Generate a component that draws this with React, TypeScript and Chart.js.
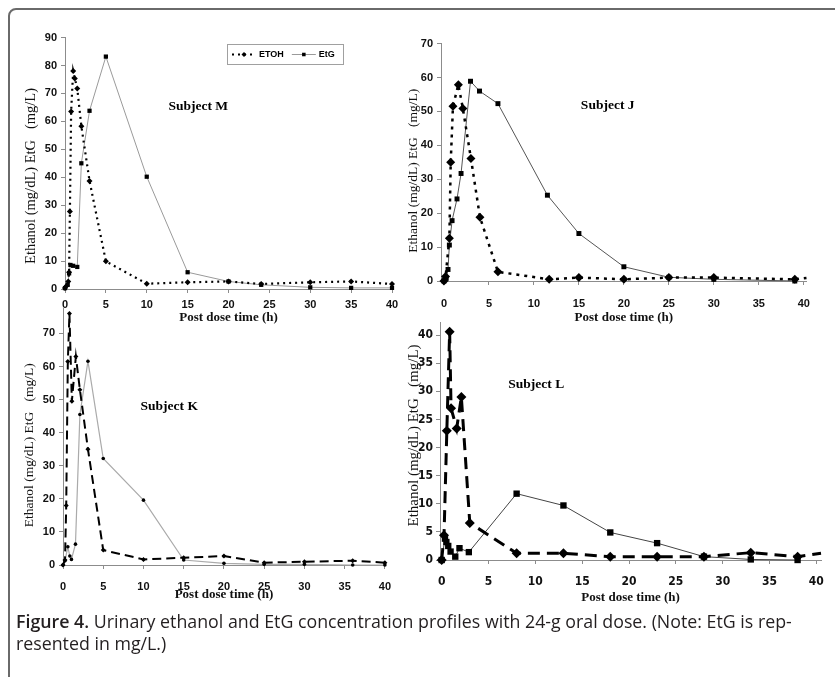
import React, { useEffect, useRef } from "react";
import { Chart, registerables } from "chart.js";

Chart.register(...registerables);

// ---------- Data ----------
// Subject M
const mEtohTime = [0, 0.2, 0.4, 0.5, 0.6, 0.75, 1, 1.2, 1.5, 2, 3, 5, 10, 15, 20, 24, 30, 35, 40];
const mEtohValue = [0.4, 1.2, 2.7, 6, 27.7, 63.5, 78, 75.4, 71.8, 58.3, 38.7, 9.9, 1.9, 2.4, 2.7, 1.8, 2.4, 2.7, 1.8];
const mEtgTime = [0, 0.33, 0.5, 0.67, 1, 1.5, 2, 3, 5, 10, 15, 20, 24, 30, 35, 40];
const mEtgValue = [0.3, 1.5, 5.6, 8.6, 8.3, 7.9, 45, 63.8, 83.2, 40.2, 6, 2.7, 1.5, 0.6, 0.4, 0.4];

// Subject J
const jEtohTime = [0, 0.18, 0.6, 0.75, 1, 1.6, 2.1, 3, 4, 6, 11.7, 15, 20, 25, 30, 39, 40.3];
const jEtohValue = [0, 1.3, 12.6, 35, 51.5, 57.9, 50.9, 36.1, 18.8, 2.7, 0.5, 1.0, 0.5, 1.0, 1.0, 0.5, 0.9];
const jEtgTime = [0, 0.25, 0.45, 0.6, 0.9, 1.45, 1.9, 2.95, 3.95, 6, 11.5, 15, 20, 25, 30, 39];
const jEtgValue = [0, 0.8, 3.4, 10.6, 17.8, 24.2, 31.7, 58.9, 56, 52.3, 25.3, 14, 4.2, 1.1, 0.5, 0];

// Subject K
const kEtohTime = [0, 0.25, 0.4, 0.6, 0.8, 1.1, 1.6, 2.1, 3.1, 5, 10, 15, 20, 25, 30, 36, 40];
const kEtohValue = [0, 1.5, 18, 61.5, 76, 49.5, 63, 53, 35, 4.5, 1.7, 2.2, 2.7, 0.7, 1.0, 1.3, 0.7];
const kEtgTime = [0, 0.25, 0.6, 0.85, 1.05, 1.55, 2.1, 3.1, 5, 10, 15, 20, 25, 30, 36, 40];
const kEtgValue = [0, 1.3, 5.5, 2.7, 1.7, 6.3, 45.5, 61.6, 32.2, 19.6, 1.5, 0.5, 0.2, 0.2, 0, 0];

// Subject L
const lEtohTime = [0, 0.25, 0.55, 0.85, 1, 1.6, 2.1, 3, 8, 13, 18, 23, 28, 33, 38, 40.5];
const lEtohValue = [0, 4.4, 23, 40.6, 27, 23.4, 29, 6.6, 1.2, 1.2, 0.6, 0.6, 0.6, 1.3, 0.6, 1.2];
const lEtgTime = [0, 0.35, 0.5, 0.7, 0.95, 1.45, 1.9, 2.9, 8, 13, 18, 23, 28, 33, 38];
const lEtgValue = [0, 3.8, 3.2, 2.5, 1.5, 0.6, 2.1, 1.4, 11.8, 9.7, 4.9, 3.0, 0.6, 0.1, 0];

// Tick labels
const xTickValues = [0, 5, 10, 15, 20, 25, 30, 35, 40];
const mYTicks = [0, 10, 20, 30, 40, 50, 60, 70, 80, 90];
const jYTicks = [0, 10, 20, 30, 40, 50, 60, 70];
const kYTicks = [0, 10, 20, 30, 40, 50, 60, 70];
const lYTicks = [0, 5, 10, 15, 20, 25, 30, 35, 40];

const seriesNames = ["ETOH", "EtG"];
const subjectNames = ["Subject M", "Subject J", "Subject K", "Subject L"];
const xTitle = "Post dose time (h)";
const yTitle = "Ethanol (mg/dL) EtG   (mg/L)";
const captionBold = "Figure 4.";
const captionLine1 = " Urinary ethanol and EtG concentration profiles with 24-g oral dose. (Note: EtG is rep-";
const captionLine2 = "resented in mg/L.)";

// ---------- helpers ----------
const SERIF = '"Liberation Serif", "Times New Roman", serif';
const SANS = '"Liberation Sans", Arial, sans-serif';
const NARROW = '"Liberation Sans Narrow", "Arial Narrow", "DejaVu Sans Condensed", sans-serif';

// shift a centred rotated title along its axis by padding with spaces
function shiftedTitle(text: string, trailing: number, leading: number) {
  return " ".repeat(leading) + text + " ".repeat(trailing);
}

function drawMarker(ctx: CanvasRenderingContext2D, style: string, x: number, y: number, r: number) {
  ctx.beginPath();
  if (style === "rect") {
    const s = r * Math.SQRT1_2;
    ctx.rect(x - s, y - s, 2 * s, 2 * s);
  } else if (style === "rectRot") {
    ctx.moveTo(x, y - r);
    ctx.lineTo(x + r, y);
    ctx.lineTo(x, y + r);
    ctx.lineTo(x - r, y);
    ctx.closePath();
  } else {
    ctx.arc(x, y, r, 0, Math.PI * 2);
  }
  ctx.fillStyle = "#000";
  ctx.fill();
}

const boxLegendPlugin = {
  id: "boxLegend",
  afterDraw(chart: any, _args: any, opts: any) {
    if (!opts || !opts.show) return;
    const { ctx, chartArea } = chart;
    const x0 = Math.round(chartArea.left + opts.dx);
    const y0 = Math.round(chartArea.top + opts.dy);
    ctx.save();
    ctx.lineWidth = 1;
    ctx.strokeStyle = "#a0a0a0";
    ctx.strokeRect(x0 + 0.5, y0 + 0.5, opts.width, opts.height);
    const cy = y0 + opts.height / 2 + 0.5;
    let cx = x0 + 5;
    ctx.font = "bold 9px " + SANS;
    ctx.textBaseline = "middle";
    ctx.textAlign = "left";
    chart.data.datasets.forEach((ds: any) => {
      ctx.beginPath();
      ctx.setLineDash(ds.borderDash || []);
      ctx.strokeStyle = ds.borderColor;
      ctx.lineWidth = ds.borderWidth;
      ctx.moveTo(cx, cy);
      ctx.lineTo(cx + opts.sample, cy);
      ctx.stroke();
      ctx.setLineDash([]);
      drawMarker(ctx, ds.pointStyle, cx + opts.sample / 2, cy, 2.5);
      ctx.fillStyle = "#000";
      ctx.fillText(ds.label, cx + opts.sample + 3, cy + 0.5);
      cx += opts.sample + 3 + ctx.measureText(ds.label).width + opts.gap;
    });
    ctx.restore();
  },
};

const subjectPlugin = {
  id: "subjectLabel",
  afterDatasetsDraw(chart: any, _args: any, opts: any) {
    if (!opts || !opts.text) return;
    const { ctx, scales } = chart;
    ctx.save();
    ctx.font = opts.font;
    ctx.fillStyle = "#000";
    ctx.textAlign = "center";
    ctx.textBaseline = "middle";
    ctx.fillText(opts.text, scales.x.getPixelForValue(opts.x), scales.y.getPixelForValue(opts.y));
    ctx.restore();
  },
};

type Style = { color: string; width: number; dash: number[]; point: string; radius: number | number[] };

function pairs(t: number[], v: number[]) {
  return t.map((x, i) => ({ x, y: v[i] }));
}

function buildConfig(p: any) {
  const mk = (label: string, t: number[], v: number[], s: Style) => ({
    label,
    data: pairs(t, v),
    borderColor: s.color,
    backgroundColor: "#000",
    borderWidth: s.width,
    borderDash: s.dash,
    pointStyle: s.point,
    pointRadius: s.radius,
    pointBackgroundColor: "#000",
    pointBorderColor: "#000",
    pointBorderWidth: 0,
    tension: 0,
    clip: false,
  });
  const axisColor = "#8c8c8c";
  const tickFont = { family: p.tickFamily || SANS, size: p.tickSize || 11, weight: "bold" as const };
  return {
    type: "line" as const,
    data: {
      datasets: [
        mk(seriesNames[0], p.etohT, p.etohV, p.etohStyle),
        mk(seriesNames[1], p.etgT, p.etgV, p.etgStyle),
      ],
    },
    options: {
      responsive: false,
      maintainAspectRatio: false,
      animation: false as const,
      devicePixelRatio: 1,
      events: [] as any[],
      layout: { padding: { top: p.padTop, right: p.padRight, left: 0, bottom: 0 } },
      plugins: {
        legend: { display: false },
        tooltip: { enabled: false },
        boxLegend: p.legend || { show: false },
        subjectLabel: { text: p.subject, x: p.subjectX, y: p.subjectY, font: "bold 13.5px " + SERIF },
      },
      scales: {
        x: {
          type: "linear" as const,
          min: p.xMin,
          max: p.xMax,
          afterBuildTicks: (s: any) => {
            s.ticks = xTickValues.map((value) => ({ value }));
          },
          afterFit: (s: any) => {
            s.height = p.xAxisH;
          },
          grid: { drawOnChartArea: false, drawTicks: true, tickLength: 4, color: axisColor },
          border: { display: true, color: axisColor, width: 1 },
          ticks: { font: tickFont, color: "#111", padding: p.xTickPad, maxRotation: 0, autoSkip: false },
          title: {
            display: true,
            text: xTitle,
            font: { family: SERIF, size: 13, weight: "bold" as const },
            color: "#111",
            padding: 0,
          },
        },
        y: {
          type: "linear" as const,
          min: p.yMin,
          max: p.yMax,
          afterBuildTicks: (s: any) => {
            s.ticks = p.yTicks.map((value: number) => ({ value }));
          },
          afterFit: (s: any) => {
            s.width = p.yAxisW;
          },
          grid: { drawOnChartArea: false, drawTicks: true, tickLength: 4, color: axisColor },
          border: { display: true, color: axisColor, width: 1 },
          ticks: { font: tickFont, color: "#111", padding: p.yTickPad, autoSkip: false },
          title: {
            display: true,
            text: shiftedTitle(yTitle, p.yTitleTrail || 0, p.yTitleLead || 0),
            font: { family: SERIF, size: p.yTitleSize, weight: "normal" as const },
            color: "#111",
            padding: 0,
          },
        },
      },
    },
    plugins: [boxLegendPlugin, subjectPlugin],
  };
}

const panels = [
  {
    key: "M",
    left: 22, top: 27, w: 382, h: 298,
    yAxisW: 43, xAxisH: 36, padTop: 10, padRight: 12,
    xMin: 0, xMax: 40, yMin: 0, yMax: 90, yTicks: mYTicks,
    xTickPad: 5, yTickPad: 4, yTitleSize: 14.5, yTitleTrail: 7,
    etohT: mEtohTime, etohV: mEtohValue, etgT: mEtgTime, etgV: mEtgValue,
    etohStyle: { color: "#000", width: 2.2, dash: [2, 4], point: "rectRot", radius: 3 },
    etgStyle: { color: "#9a9a9a", width: 1, dash: [], point: "rect", radius: 3 },
    subject: subjectNames[0], subjectX: 16.3, subjectY: 65.4,
    legend: { show: true, dx: 162, dy: 6, width: 116, height: 20, sample: 24, gap: 8 },
  },
  {
    key: "J",
    left: 405, top: 33, w: 417, h: 292,
    yAxisW: 36, xAxisH: 44, padTop: 10, padRight: 12,
    xMin: -0.33, xMax: 40.33, yMin: 0, yMax: 70, yTicks: jYTicks,
    xTickPad: 12, yTickPad: 4, yTitleSize: 13.5, yTitleTrail: 5,
    etohT: jEtohTime, etohV: jEtohValue, etgT: jEtgTime, etgV: jEtgValue,
    etohStyle: { color: "#000", width: 2.5, dash: [3, 5], point: "rectRot", radius: jEtohTime.map((_, i) => (i === jEtohTime.length - 1 ? 0 : 4.5)) },
    etgStyle: { color: "#555", width: 1, dash: [], point: "rect", radius: 3.5 },
    subject: subjectNames[1], subjectX: 18.2, subjectY: 51.8,
  },
  {
    key: "K",
    left: 21, top: 298, w: 381, h: 304,
    yAxisW: 42, xAxisH: 37, padTop: 10, padRight: 12,
    xMin: 0, xMax: 40, yMin: 0, yMax: 77.5, yTicks: kYTicks,
    xTickPad: 11, yTickPad: 4, yTitleSize: 13.5, yTitleTrail: 5,
    etohT: kEtohTime, etohV: kEtohValue, etgT: kEtgTime, etgV: kEtgValue,
    etohStyle: { color: "#000", width: 2, dash: [9, 5], point: "rectRot", radius: 2.5 },
    etgStyle: { color: "#aaaaaa", width: 1.2, dash: [], point: "circle", radius: 1.8 },
    subject: subjectNames[2], subjectX: 13.2, subjectY: 48,
  },
  {
    key: "L",
    left: 405, top: 312, w: 430, h: 293,
    yAxisW: 35, xAxisH: 45, padTop: 10, padRight: 12,
    xMin: -0.18, xMax: 40.53, yMin: 0, yMax: 42.3, yTicks: lYTicks,
    xTickPad: 11, yTickPad: 3, yTitleSize: 15, yTitleLead: 3, tickFamily: NARROW, tickSize: 12,
    etohT: lEtohTime, etohV: lEtohValue, etgT: lEtgTime, etgV: lEtgValue,
    etohStyle: { color: "#000", width: 3, dash: [12, 7], point: "rectRot", radius: lEtohTime.map((_, i) => (i === lEtohTime.length - 1 ? 0 : 5)) },
    etgStyle: { color: "#444", width: 1, dash: [], point: "rect", radius: 4.5 },
    subject: subjectNames[3], subjectX: 10.1, subjectY: 31.3,
  },
];

function Panel({ cfg }: { cfg: any }) {
  const ref = useRef<HTMLCanvasElement>(null);
  useEffect(() => {
    if (!ref.current) return;
    const chart = new Chart(ref.current, buildConfig(cfg) as any);
    return () => chart.destroy();
  }, [cfg]);
  return (
    <canvas
      ref={ref}
      width={cfg.w}
      height={cfg.h}
      style={{ position: "absolute", left: cfg.left, top: cfg.top, width: cfg.w, height: cfg.h }}
    />
  );
}

export default function App() {
  return (
    <div
      style={{
        position: "absolute",
        left: 0,
        top: 0,
        width: 835,
        height: 677,
        overflow: "hidden",
        background: "#fff",
      }}
    >
      <div
        style={{
          position: "absolute",
          left: 8,
          top: 8,
          width: 1000,
          height: 1000,
          border: "2px solid #6a6a6a",
          borderRadius: 8,
          boxSizing: "border-box",
        }}
      />
      {panels.map((p) => (
        <Panel key={p.key} cfg={p} />
      ))}
      <div
        style={{
          position: "absolute",
          left: 16,
          top: 610,
          whiteSpace: "nowrap",
          fontFamily: '"Open Sans", "DejaVu Sans Condensed", sans-serif',
          fontSize: 17.8,
          lineHeight: "22px",
          color: "#231f20",
        }}
      >
        <b style={{ fontWeight: 600 }}>{captionBold}</b>
        {captionLine1}
        <br />
        {captionLine2}
      </div>
    </div>
  );
}
